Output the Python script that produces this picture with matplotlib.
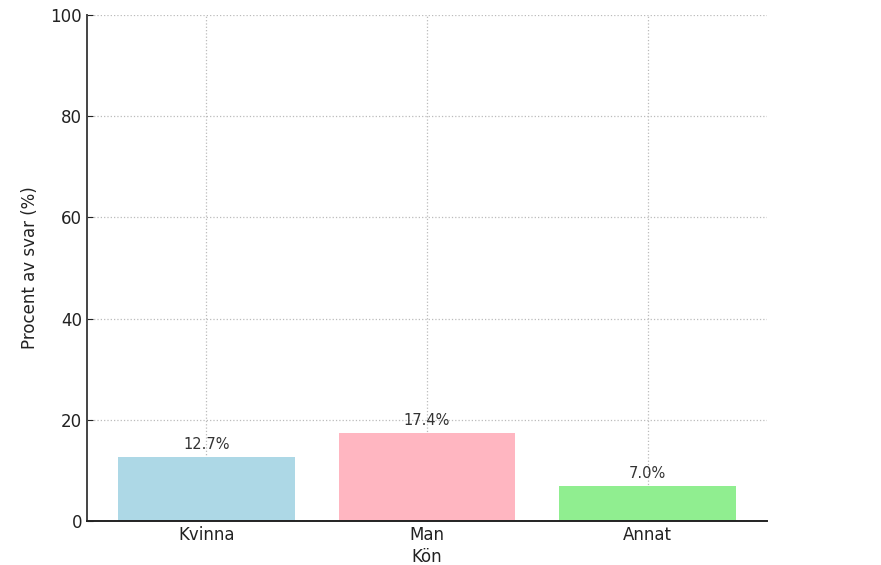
import matplotlib
matplotlib.use("Agg")
import matplotlib.pyplot as plt

categories = ["Kvinna", "Man", "Annat"]
percent = [12.7, 17.4, 7.0]
colors = ["lightblue", "lightpink", "lightgreen"]

fig = plt.figure(figsize=(8.81, 5.65), dpi=100)
ax = fig.add_axes([87 / 881, 44 / 565, 680 / 881, 506 / 565])

bars = ax.bar(categories, percent, color=colors, width=0.8, zorder=2)
for bar, v in zip(bars, percent):
    ax.text(bar.get_x() + bar.get_width() / 2, v + 1.0, f"{v:.1f}%",
            ha="center", va="bottom", fontsize=10.5, color="#333333")

ax.set_ylim(0, 100)
ax.set_ylabel("Procent av svar (%)", fontsize=12, color="#222222", labelpad=8)
ax.set_xlabel("Kön", fontsize=12, color="#222222", labelpad=3)
ax.tick_params(direction="in", labelsize=12, colors="#222222", length=4)
ax.grid(True, linestyle=":", color="#bbbbbb", linewidth=0.9, zorder=0)
ax.spines["top"].set_visible(False)
ax.spines["right"].set_visible(False)
ax.spines["left"].set_color("#444444")
ax.spines["bottom"].set_color("#222222")
ax.spines["bottom"].set_linewidth(1.4)
ax.spines["left"].set_linewidth(1.4)

fig.savefig("out.png", dpi=100)
